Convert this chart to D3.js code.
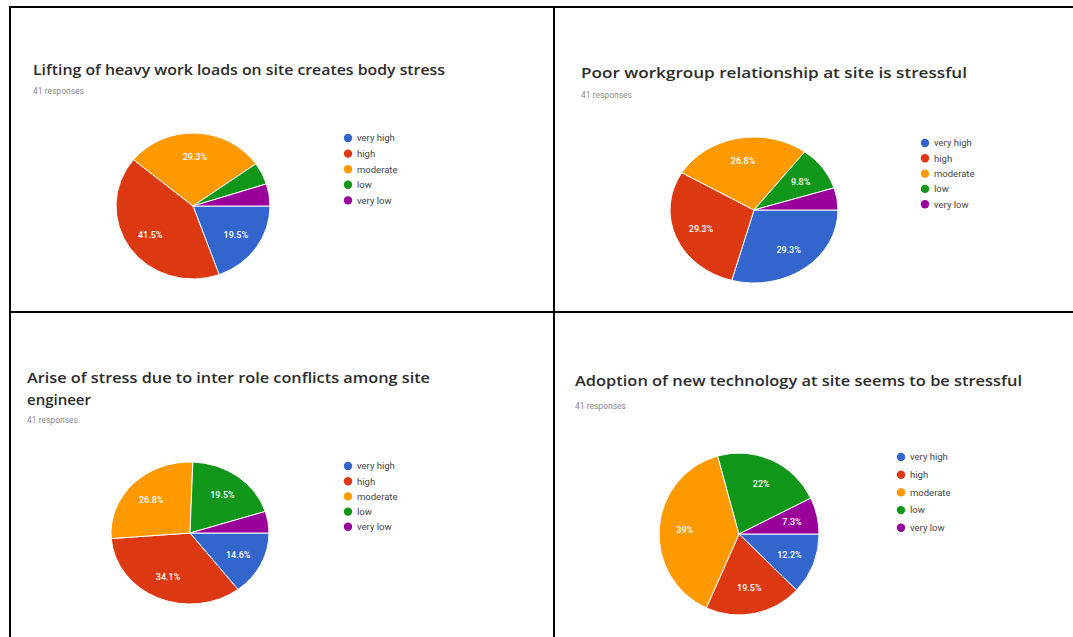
<!DOCTYPE html>
<html>
<head>
<meta charset="utf-8">
<script src="https://cdn.jsdelivr.net/npm/d3@7"></script>
<style>
  html, body { margin: 0; padding: 0; background: #fff; }
  svg { display: block; }
</style>
</head>
<body>
<svg id="chart" width="1073" height="637"></svg>
<script>
// ---- data ----
const categories = ["very high", "high", "moderate", "low", "very low"];
const colors = ["#3366cc", "#dc3912", "#ff9900", "#109618", "#990099"];
const titles = [
  ["Lifting of heavy work loads on site creates body stress"],
  ["Poor workgroup relationship at site is stressful"],
  ["Arise of stress due to inter role conflicts among site", "engineer"],
  ["Adoption of new technology at site seems to be stressful"]
];
const responsesLabel = "41 responses";
const valuesLifting = [19.5, 41.5, 29.3, 4.9, 4.9];
const valuesWorkgroup = [29.3, 29.3, 26.8, 9.8, 4.9];
const valuesRoleConflict = [14.6, 34.1, 26.8, 19.5, 4.9];
const valuesTechnology = [12.2, 19.5, 39, 22, 7.3];
const allValues = [valuesLifting, valuesWorkgroup, valuesRoleConflict, valuesTechnology];

// ---- layout (per panel) ----
const panels = [
  { tx: 33, ty: 75, tw: [412], resp: 94, cx: 193, cy: 206, rx: 77, ry: 73, lx: 348, ly: 138, ls: 15.6 },
  { tx: 581, ty: 78, tw: [386], resp: 98, cx: 754, cy: 210, rx: 84, ry: 73, lx: 925, ly: 143, ls: 15.3 },
  { tx: 27, ty: 383, tw: [403, 64], lh: 22, resp: 423, cx: 190, cy: 533, rx: 79, ry: 71, lx: 348, ly: 466, ls: 15.2 },
  { tx: 575, ty: 386, tw: [447], resp: 409, cx: 739, cy: 534, rx: 80, ry: 81, lx: 901, ly: 457, ls: 17.7 }
];

const svg = d3.select("#chart");

// table borders
const borders = svg.append("g").attr("stroke", "#000").attr("stroke-width", 2);
borders.append("line").attr("x1", 9).attr("x2", 1073).attr("y1", 7).attr("y2", 7);
borders.append("line").attr("x1", 10).attr("x2", 10).attr("y1", 6).attr("y2", 637);
borders.append("line").attr("x1", 554).attr("x2", 554).attr("y1", 6).attr("y2", 637);
borders.append("line").attr("x1", 9).attr("x2", 1073).attr("y1", 312).attr("y2", 312);

const pie = d3.pie().sort(null).value(d => d)
  .startAngle(Math.PI / 2).endAngle(Math.PI / 2 + 2 * Math.PI);
const R = 100;
const arc = d3.arc().innerRadius(0).outerRadius(R);
const fmt = v => (Math.round(v * 10) / 10) + "%";

panels.forEach((p, i) => {
  const g = svg.append("g");
  // title
  titles[i].forEach((line, j) => {
    g.append("text")
      .attr("x", p.tx).attr("y", p.ty + j * (p.lh || 0))
      .attr("font-family", "'Open Sans', Roboto, sans-serif")
      .attr("font-size", 15).attr("font-weight", 600)
      .attr("fill", "#2b2b2b")
      .attr("textLength", p.tw[j]).attr("lengthAdjust", "spacingAndGlyphs")
      .text(line);
  });
  g.append("text")
    .attr("x", p.tx).attr("y", p.resp)
    .attr("font-family", "Roboto, sans-serif")
    .attr("font-size", 8.5).attr("fill", "#8a8a8a")
    .text(responsesLabel);

  // pie (scaled to ellipse)
  const arcs = pie(allValues[i]);
  const pg = g.append("g")
    .attr("transform", `translate(${p.cx},${p.cy}) scale(${p.rx / R},${p.ry / R})`);
  pg.selectAll("path").data(arcs).join("path")
    .attr("d", arc)
    .attr("fill", (d, k) => colors[k])
    .attr("stroke", "#fff").attr("stroke-width", 1)
    .attr("vector-effect", "non-scaling-stroke");

  // slice labels
  const labelArc = d3.arc().innerRadius(R * 0.68).outerRadius(R * 0.68);
  g.selectAll("text.lbl").data(arcs.filter(d => d.value >= 5)).join("text")
    .attr("class", "lbl")
    .attr("x", d => p.cx + labelArc.centroid(d)[0] * p.rx / R)
    .attr("y", d => p.cy + labelArc.centroid(d)[1] * p.ry / R)
    .attr("dy", "0.35em")
    .attr("text-anchor", "middle")
    .attr("font-family", "Roboto, sans-serif")
    .attr("font-size", 9).attr("font-weight", 500)
    .attr("fill", "#fff")
    .text(d => fmt(d.value));

  // legend
  const lg = g.append("g");
  categories.forEach((c, k) => {
    const y = p.ly + k * p.ls;
    lg.append("circle").attr("cx", p.lx).attr("cy", y).attr("r", 4.2).attr("fill", colors[k]);
    lg.append("text").attr("x", p.lx + 9).attr("y", y).attr("dy", "0.35em")
      .attr("font-family", "Roboto, sans-serif").attr("font-size", 9.5)
      .attr("fill", "#444").text(c);
  });
});
</script>
</body>
</html>
